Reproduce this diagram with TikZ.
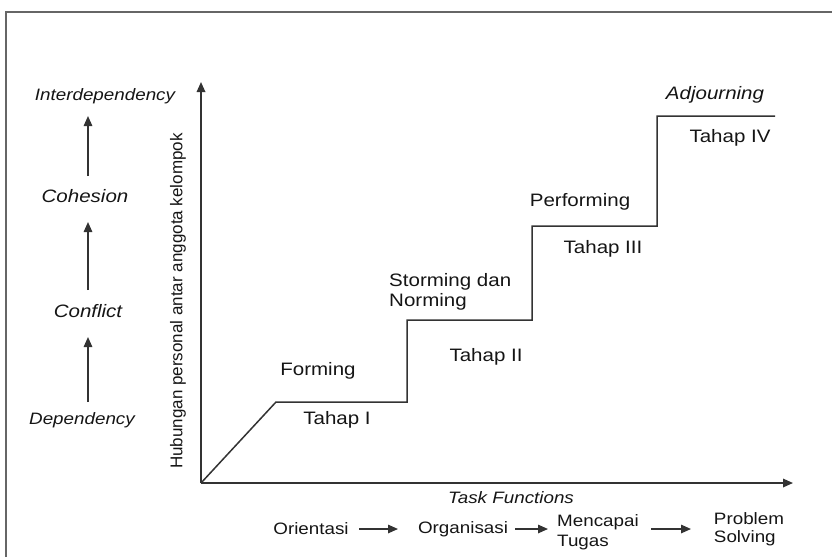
\documentclass[tikz,border=0pt]{standalone}
\usepackage{fontspec}
\setmainfont[FakeStretch=1.14]{Liberation Sans}
\newfontfamily\rotfont{Liberation Sans}
\usetikzlibrary{arrows.meta}
\definecolor{ink}{HTML}{151515}
\definecolor{linec}{HTML}{333333}
\tikzset{
  lbl/.style={inner sep=0pt, text=ink, font=\fontsize{18}{20}\selectfont},
  ilbl/.style={lbl, font=\fontsize{18}{20}\selectfont\itshape},
  silbl/.style={lbl, font=\fontsize{16.5}{19}\selectfont\itshape},
  ln/.style={draw=linec, line width=1.5pt},
  arr/.style={ln, -{Triangle[length=10pt,width=8.5pt]}},
  frame/.style={draw=gray!80!black, line width=1.3pt}
}
\begin{document}
\begin{tikzpicture}[x=1pt,y=-1pt]
\useasboundingbox (0,0) rectangle (832,557);
% frame
\coordinate (fbl) at (6,557);
\coordinate (ftl) at (6,12);
\coordinate (ftr) at (832,12);
\draw[frame] (fbl) -- (ftl) -- (ftr);
% axes
\coordinate (origin) at (201,483);
\coordinate (ytip) at (201,82);
\coordinate (xtip) at (793,483);
\draw[arr, line width=1.7pt] (origin) -- (ytip);
\draw[arr, line width=1.7pt] (origin) -- (xtip);
% staircase
\coordinate (s1) at (276,402);
\coordinate (s2) at (407,402);
\coordinate (s3) at (407,320);
\coordinate (s4) at (532,320);
\coordinate (s5) at (532,226);
\coordinate (s6) at (657,226);
\coordinate (s7) at (657,116);
\coordinate (s8) at (775,116);
\draw[ln, line join=miter] (origin) -- (s1) -- (s2) -- (s3) -- (s4) -- (s5) -- (s6) -- (s7) -- (s8);
% y label
\node[inner sep=0pt, text=ink, font=\rotfont\fontsize{17}{20}\selectfont, rotate=90] (ylab) at (178,301) {Hubungan personal antar anggota kelompok};
% left column
\node[silbl] (inter) at (105,96) {Interdependency};
\node[ilbl] (coh) at (85,196) {Cohesion};
\node[ilbl] (conf) at (88,311) {Conflict};
\node[silbl] (dep) at (82,420) {Dependency};
\coordinate (a1s) at (88,402); \coordinate (a1e) at (88,337);
\coordinate (a2s) at (88,290); \coordinate (a2e) at (88,222);
\coordinate (a3s) at (88,176); \coordinate (a3e) at (88,116);
\draw[arr] (a1s) -- (a1e);
\draw[arr] (a2s) -- (a2e);
\draw[arr] (a3s) -- (a3e);
% stage labels
\node[lbl] (form) at (318,371) {Forming};
\node[lbl] (t1) at (337,420) {Tahap I};
\node[lbl, align=left, anchor=west] (storm) at (389,292) {Storming dan\\Norming};
\node[lbl] (t2) at (486,357) {Tahap II};
\node[lbl] (perf) at (580,202) {Performing};
\node[lbl] (t3) at (603,249) {Tahap III};
\node[ilbl] (adj) at (715,95) {Adjourning};
\node[lbl] (t4) at (730,138) {Tahap IV};
% x label
\node[silbl] (task) at (511,498) {Task Functions};
% bottom sequence
\node[lbl, font=\fontsize{16.5}{19}\selectfont] (ori) at (311,529) {Orientasi};
\node[lbl, font=\fontsize{16.5}{19}\selectfont] (org) at (463,529) {Organisasi};
\node[lbl, font=\fontsize{16.5}{20}\selectfont, align=left, anchor=west] (menc) at (557,532) {Mencapai\\Tugas};
\node[lbl, font=\fontsize{16.5}{18.5}\selectfont, align=left] (prob) at (749,529) {Problem\\Solving};
\coordinate (b1s) at (359,529); \coordinate (b1e) at (398,529);
\coordinate (b2s) at (515,529); \coordinate (b2e) at (548,529);
\coordinate (b3s) at (651,529); \coordinate (b3e) at (691,529);
\draw[arr] (b1s) -- (b1e);
\draw[arr] (b2s) -- (b2e);
\draw[arr] (b3s) -- (b3e);
\end{tikzpicture}
\end{document}
